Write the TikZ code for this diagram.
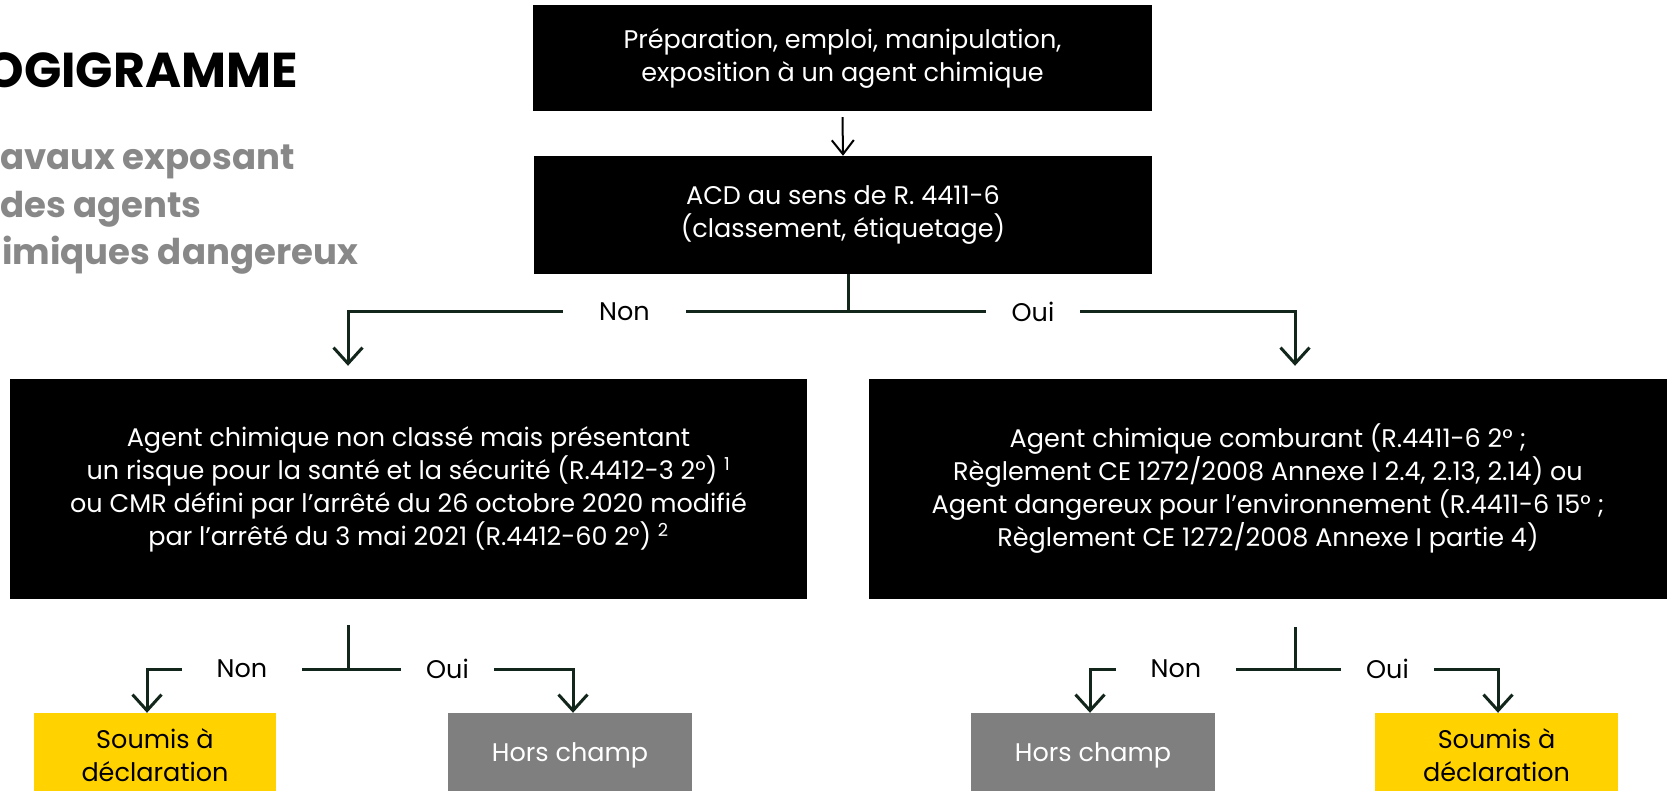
\documentclass[tikz,border=0pt]{standalone}
\usepackage{fontspec}
\setmainfont{Poppins}
\usetikzlibrary{arrows.meta}
\definecolor{conn}{RGB}{18,38,28}
\definecolor{jaune}{RGB}{255,210,0}
\definecolor{gris}{RGB}{127,127,127}
\definecolor{subgray}{RGB}{136,136,136}
\begin{document}
\begin{tikzpicture}[x=1pt,y=-1pt,
  bodyfont/.style={font=\fontsize{25.5}{33}\selectfont},
  blackbox/.style={bodyfont,fill=black,text=white,align=center,inner sep=0pt},
  yellowbox/.style={bodyfont,fill=jaune,text=black,align=center,inner sep=0pt,minimum height=84pt},
  greybox/.style={bodyfont,fill=gris,text=white,align=center,inner sep=0pt,minimum height=84pt},
  lbl/.style={bodyfont,text=black,inner sep=0pt,minimum height=20pt},
  subtitle/.style={anchor=base west,inner sep=0pt,text=subgray,font=\bfseries\fontsize{35.5}{35.5}\selectfont},
  conn/.style={draw=conn,line width=3pt},
  arr/.style={conn,-{Straight Barb[length=16pt,width=29pt,line width=3pt]}},
  arrk/.style={draw=black,line width=2pt,-{Straight Barb[length=14pt,width=22pt,line width=2pt]}}
]
\useasboundingbox (0,0) rectangle (1667,791);
\clip (0,0) rectangle (1667,791);
\fill[white] (0,0) rectangle (1667,791);

% title
\node[anchor=base east,inner sep=0pt,font=\bfseries\fontsize{49}{49}\selectfont] (title) at (298,88) {OGIGRAMME};
\node[subtitle] (sub1) at (0,170) {avaux exposant};
\node[subtitle] (sub2) at (0,218) {des agents};
\node[subtitle] (sub3) at (2,265) {imiques dangereux};

% main boxes
\node[blackbox,minimum width=619pt,minimum height=106pt] (top) at (842.5,58)
  {Préparation, emploi, manipulation,\\exposition à un agent chimique};
\node[blackbox,minimum width=618pt,minimum height=118pt] (acd) at (843,215)
  {ACD au sens de R. 4411-6\\(classement, étiquetage)};
\node[blackbox,minimum width=797pt,minimum height=220pt] (left) at (408.5,489)
  {Agent chimique non classé mais présentant\\
   un risque pour la santé et la sécurité (R.4412-3 2°) \textsuperscript{1}\\
   ou CMR défini par l’arrêté du 26 octobre 2020 modifié\\
   par l’arrêté du 3 mai 2021 (R.4412-60 2°) \textsuperscript{2}};
\node[blackbox,minimum width=798pt,minimum height=220pt] (right) at (1268,489)
  {Agent chimique comburant (R.4411-6 2° ;\\
   Règlement CE 1272/2008 Annexe I 2.4, 2.13, 2.14) ou\\
   Agent dangereux pour l’environnement (R.4411-6 15° ;\\
   Règlement CE 1272/2008 Annexe I partie 4)};

% result boxes
\node[yellowbox,minimum width=242pt] (yel1) at (155,755) {Soumis à\\déclaration};
\node[greybox,minimum width=244pt] (gris1) at (570,755) {Hors champ};
\node[greybox,minimum width=244pt] (gris2) at (1093,755) {Hors champ};
\node[yellowbox,minimum width=243pt] (yel2) at (1496.5,755) {Soumis à\\déclaration};

% top arrow
\draw[arrk] ([yshift=-6pt]top.south) -- (acd.north);

% first decision
\node[lbl,minimum width=123pt] (non1) at (624.5,311.5) {Non};
\node[lbl,minimum width=94pt] (oui1) at (1033,311.5) {Oui};
\coordinate (j1) at (848,311.5);
\coordinate (j1top) at (848,274);
\draw[conn] (j1top) -- (j1);
\draw[conn] (non1.east) -- (oui1.west);
\draw[arr] (non1.west) -| ([xshift=-60.5pt,yshift=13pt]left.north);
\draw[arr] (oui1.east) -| ([xshift=27pt,yshift=13pt]right.north);

% second decision (left)
\node[lbl,minimum width=120pt] (non2) at (242,669) {Non};
\node[lbl,minimum width=93pt] (oui2) at (447.5,669) {Oui};
\coordinate (j2) at (348,669);
\coordinate (j2top) at (348,625);
\draw[conn] (j2top) -- (j2);
\draw[conn] (non2.east) -- (oui2.west);
\draw[arr] (non2.west) -| ([xshift=-8pt]yel1.north);
\draw[arr] (oui2.east) -| ([xshift=3pt]gris1.north);

% second decision (right)
\node[lbl,minimum width=120pt] (non3) at (1176,669) {Non};
\node[lbl,minimum width=93pt] (oui3) at (1387.5,669) {Oui};
\coordinate (j3) at (1295,669);
\coordinate (j3top) at (1295,627);
\draw[conn] (j3top) -- (j3);
\draw[conn] (non3.east) -- (oui3.west);
\draw[arr] (non3.west) -| ([xshift=-3pt]gris2.north);
\draw[arr] (oui3.east) -| ([xshift=1.5pt]yel2.north);
\end{tikzpicture}
\end{document}
